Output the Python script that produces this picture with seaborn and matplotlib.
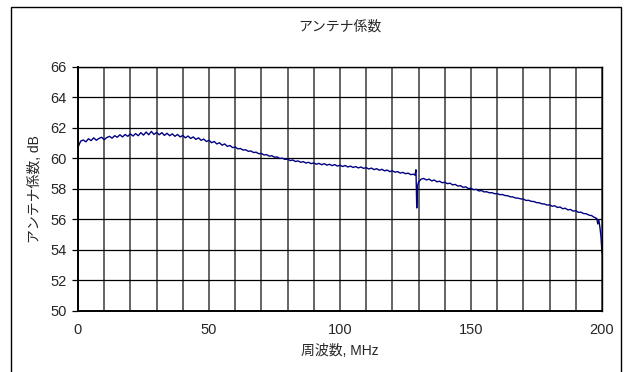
import matplotlib
matplotlib.use("Agg")
import matplotlib.pyplot as plt
from matplotlib.patches import Rectangle
import numpy as np
import pandas as pd
import seaborn as sns

# frequency (MHz) and antenna factor (dB)
freq_low = list(range(0, 129)) + [128.6, 129.0, 129.3, 129.6]
af_low = [
    60.72, 61.12, 61.20, 61.08, 61.28, 61.16, 61.34, 61.18, 61.30, 61.38,
    61.22, 61.36, 61.44, 61.32, 61.48, 61.38, 61.54, 61.40, 61.56, 61.44,
    61.60, 61.46, 61.62, 61.48, 61.68, 61.52, 61.72, 61.54, 61.76, 61.56,
    61.70, 61.54, 61.68, 61.50, 61.64, 61.48, 61.60, 61.44, 61.56, 61.40,
    61.50, 61.34, 61.46, 61.30, 61.40, 61.24, 61.34, 61.18, 61.26, 61.10,
    61.18, 61.02, 61.10, 60.94, 61.02, 60.86, 60.94, 60.78, 60.84, 60.70,
    60.74, 60.62, 60.64, 60.54, 60.56, 60.46, 60.48, 60.38, 60.40, 60.30,
    60.32, 60.22, 60.24, 60.14, 60.17, 60.07, 60.09, 59.99, 60.01, 59.93,
    59.95, 59.85, 59.89, 59.79, 59.83, 59.74, 59.78, 59.69, 59.74, 59.65,
    59.70, 59.61, 59.67, 59.58, 59.65, 59.55, 59.61, 59.52, 59.59, 59.49,
    59.55, 59.46, 59.53, 59.43, 59.49, 59.40, 59.46, 59.37, 59.43, 59.34,
    59.39, 59.30, 59.36, 59.26, 59.32, 59.22, 59.28, 59.18, 59.23, 59.13,
    59.18, 59.09, 59.13, 59.03, 59.08, 58.99, 59.03, 58.93, 58.96,
    58.90, 59.25, 56.75, 58.20,
]
freq_high = list(range(130, 199)) + [198.4, 198.8, 199.2, 199.6, 200.0]
af_high = [
    58.45, 58.64, 58.68, 58.58, 58.64, 58.52, 58.58, 58.46, 58.50, 58.40,
    58.43, 58.34, 58.37, 58.26, 58.29, 58.18, 58.21, 58.10, 58.13, 58.02,
    58.04, 57.94, 57.97, 57.86, 57.89, 57.80, 57.81, 57.74, 57.75, 57.68,
    57.69, 57.62, 57.63, 57.56, 57.55, 57.48, 57.47, 57.40, 57.39, 57.34,
    57.33, 57.24, 57.25, 57.18, 57.17, 57.10, 57.09, 57.02, 57.01, 56.94,
    56.95, 56.86, 56.89, 56.78, 56.81, 56.70, 56.73, 56.62, 56.65, 56.54,
    56.57, 56.46, 56.47, 56.38, 56.37, 56.28, 56.25, 56.14, 56.06,
    55.70, 55.95, 55.50, 54.90, 53.80,
]

x_ticks = [0, 50, 100, 150, 200]
y_ticks = list(range(50, 67, 2))

df = pd.DataFrame({"freq": freq_low + freq_high, "af": af_low + af_high})

sns.set_style("white")
plt.rcParams["font.family"] = ["Liberation Sans", "Noto Sans CJK JP", "DejaVu Sans"]

fig = plt.figure(figsize=(6.32, 3.72), dpi=100)
ax = fig.add_axes([0.1234, 0.164, 0.8291, 0.6567])

sns.lineplot(data=df, x="freq", y="af", ax=ax, color="#000080",
             linewidth=1.0, sort=False, estimator=None)

ax.set_xlim(0, 200)
ax.set_ylim(50, 66)
ax.set_xticks(x_ticks)
ax.set_xticks(np.arange(0, 201, 10), minor=True)
ax.set_yticks(y_ticks)
ax.grid(True, which="minor", axis="x", color="#3a3a3a", linewidth=1.1)
ax.grid(True, which="major", axis="x", color="#3a3a3a", linewidth=1.1)
ax.grid(True, which="major", axis="y", color="black", linewidth=0.9)
ax.tick_params(axis="y", which="major", direction="out", length=4, width=0.9,
               color="black", labelsize=10.5, pad=4, left=True)
ax.tick_params(axis="x", which="both", length=0, labelsize=10.5, pad=9)
for s in ax.spines.values():
    s.set_color("black")
    s.set_linewidth(1.0)
ax.spines["left"].set_linewidth(1.4)
ax.spines["bottom"].set_linewidth(1.4)

ax.set_xlabel("周波数, MHz", fontsize=10, labelpad=5)
ax.set_ylabel("アンテナ係数, dB", fontsize=10, labelpad=6)
ax.set_title("アンテナ係数", fontsize=10, pad=26)

fig.patches.append(Rectangle((11 / 632, -0.1), 610 / 632, 1.1 - 7 / 372,
                             transform=fig.transFigure, fill=False,
                             edgecolor="black", linewidth=1.0))

fig.savefig("out.png", dpi=100)
